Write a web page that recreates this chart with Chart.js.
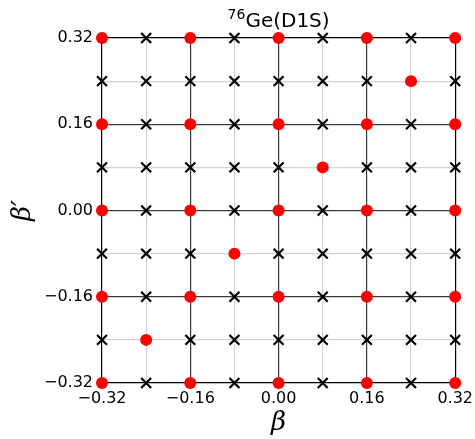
<!DOCTYPE html>
<html>
<head>
<meta charset="utf-8">
<script src="https://cdn.jsdelivr.net/npm/chart.js@4/dist/chart.umd.min.js"></script>
<style>
  html, body { margin: 0; padding: 0; background: #fff; }
  #wrap { width: 475px; height: 439px; }
</style>
</head>
<body>
<div id="wrap"><canvas id="c" width="475" height="439"></canvas></div>
<script>
// grid of deformation values
const gridVals = [-0.32, -0.24, -0.16, -0.08, 0.00, 0.08, 0.16, 0.24, 0.32];
const majorTicks = [-0.32, -0.16, 0.00, 0.16, 0.32];

// red points (computed) -- one row per beta'
const redRows = [
  { y: 0.32,  x: [-0.32, -0.16, 0.00, 0.16, 0.32] },
  { y: 0.24,  x: [0.24] },
  { y: 0.16,  x: [-0.32, -0.16, 0.00, 0.16, 0.32] },
  { y: 0.08,  x: [0.08] },
  { y: 0.00,  x: [-0.32, -0.16, 0.00, 0.16, 0.32] },
  { y: -0.08, x: [-0.08] },
  { y: -0.16, x: [-0.32, -0.16, 0.00, 0.16, 0.32] },
  { y: -0.24, x: [-0.24] },
  { y: -0.32, x: [-0.32, -0.16, 0.00, 0.16, 0.32] }
];

// black crosses -- one row per beta'
const crossRows = [
  { y: 0.32,  x: [-0.24, -0.08, 0.08, 0.24] },
  { y: 0.24,  x: [-0.32, -0.24, -0.16, -0.08, 0.00, 0.08, 0.16, 0.32] },
  { y: 0.16,  x: [-0.24, -0.08, 0.08, 0.24] },
  { y: 0.08,  x: [-0.32, -0.24, -0.16, -0.08, 0.00, 0.16, 0.24, 0.32] },
  { y: 0.00,  x: [-0.24, -0.08, 0.08, 0.24] },
  { y: -0.08, x: [-0.32, -0.24, -0.16, 0.00, 0.08, 0.16, 0.24, 0.32] },
  { y: -0.16, x: [-0.24, -0.08, 0.08, 0.24] },
  { y: -0.24, x: [-0.32, -0.16, -0.08, 0.00, 0.08, 0.16, 0.24, 0.32] },
  { y: -0.32, x: [-0.24, -0.08, 0.08, 0.24] }
];

const titleSup = "76";
const titleMain = "Ge(D1S)";

const toPoints = rows => rows.flatMap(r => r.x.map(x => ({ x, y: r.y })));

const isMajor = v => majorTicks.some(m => Math.abs(m - v) < 1e-6);
const isEdge = v => Math.abs(Math.abs(v) - 0.32) < 1e-6;

const gridColor = ctx => {
  const v = ctx.tick ? ctx.tick.value : 0;
  if (isEdge(v)) return "#000";
  return isMajor(v) ? "#3a3a3a" : "#d3d3d3";
};
const tickColor = ctx => {
  const v = ctx.tick ? ctx.tick.value : 0;
  return isMajor(v) ? "#000" : "rgba(0,0,0,0)";
};

const tickCb = v => {
  if (!isMajor(v)) return "";
  const s = Math.abs(v).toFixed(2);
  return v < -1e-6 ? "\u2212" + s : s;
};

// title with a mathtext-like superscript
const titlePlugin = {
  id: "topTitle",
  afterDraw(chart) {
    const { ctx, chartArea } = chart;
    ctx.save();
    ctx.fillStyle = "#000";
    ctx.textBaseline = "alphabetic";
    ctx.textAlign = "left";
    ctx.font = "14px 'DejaVu Sans'";
    const wSup = ctx.measureText(titleSup).width;
    ctx.font = "20px 'DejaVu Sans'";
    const wMain = ctx.measureText(titleMain).width;
    const x0 = (chartArea.left + chartArea.right) / 2 - (wSup + wMain) / 2;
    ctx.font = "14px 'DejaVu Sans'";
    ctx.fillText(titleSup, x0, 19);
    ctx.font = "20px 'DejaVu Sans'";
    ctx.fillText(titleMain, x0 + wSup, 27);
    ctx.restore();
  }
};

function axis(titleStr, pad, tickPad) {
  return {
    type: "linear",
    min: -0.32,
    max: 0.32,
    afterBuildTicks: s => { s.ticks = gridVals.map(v => ({ value: v })); },
    ticks: {
      autoSkip: false,
      maxRotation: 0,
      minRotation: 0,
      color: "#000",
      font: { family: "DejaVu Sans", size: 16 },
      padding: tickPad,
      callback: tickCb
    },
    grid: {
      color: gridColor,
      tickColor: tickColor,
      tickLength: 4,
      lineWidth: 1.2
    },
    border: { display: false },
    title: {
      display: true,
      text: titleStr,
      color: "#000",
      font: { family: "DejaVu Serif", size: 26, style: "italic" },
      padding: pad
    }
  };
}

const xAxis = axis("β", { top: 4, bottom: 0 }, 2);
xAxis.afterFit = s => { s.height = 56; };
const yAxis = axis("β′", { top: 8, bottom: 4 }, 5);
yAxis.afterFit = s => { s.width = 102; };

new Chart(document.getElementById("c"), {
  type: "scatter",
  data: {
    datasets: [
      {
        label: "cross",
        data: toPoints(crossRows),
        pointStyle: "crossRot",
        pointRadius: 7,
        borderColor: "#000",
        borderWidth: 2.2,
        backgroundColor: "#000",
        clip: false
      },
      {
        label: "red",
        data: toPoints(redRows),
        pointStyle: "circle",
        pointRadius: 6,
        borderWidth: 0,
        backgroundColor: "#ff0000",
        clip: false
      }
    ]
  },
  options: {
    responsive: false,
    animation: false,
    layout: { padding: { top: 38, right: 18, left: 0, bottom: 0 } },
    plugins: {
      legend: { display: false },
      tooltip: { enabled: false }
    },
    scales: { x: xAxis, y: yAxis }
  },
  plugins: [titlePlugin]
});
</script>
</body>
</html>
